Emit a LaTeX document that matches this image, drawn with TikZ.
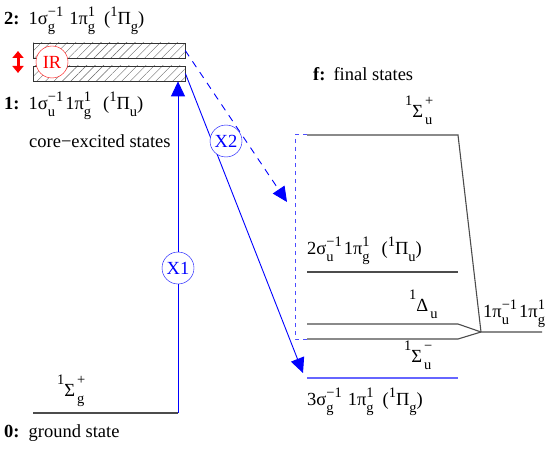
\documentclass[tikz,border=0pt]{standalone}
\usepackage{fontspec}
\setmainfont[Ligatures=TeX]{Liberation Serif}
\usetikzlibrary{arrows.meta, patterns.meta}

% scripts in the text font
\newcommand\scrfont{\fontsize{14.5}{16}\selectfont}
\newcommand\ssc[3][8pt]{{\scrfont\setbox0=\hbox{\raisebox{#1}{#3}}%
    \setbox2=\hbox{\raisebox{-7pt}{#2}}%
    \ifdim\wd0>\wd2 \rlap{\box2}\box0\else\rlap{\box0}\box2\fi}}
\newcommand\pre[2][8pt]{{\scrfont\raisebox{#1}{#2}}}
\newcommand\sbx[1]{{\scrfont\raisebox{-7pt}{#1}}}

\begin{document}
\begin{tikzpicture}[
    x=1pt, y=-1pt,
    lbl/.style={anchor=base west, inner sep=0pt, font=\fontsize{18.5}{22}\selectfont},
    level/.style={line width=1.1pt, black!70},
    bar/.style={draw, thick, black!80, minimum width=152pt, minimum height=15pt, inner sep=0pt,
        pattern={Lines[angle=45, distance=6pt, line width=0.4pt]}, pattern color=black!60},
    xcirc/.style={circle, draw=blue, fill=white, text=blue, inner sep=0pt, minimum size=32pt,
        font=\fontsize{18.5}{22}\selectfont},
    xarrow/.style={blue, line width=0.9pt, -{Triangle[length=15pt, width=14pt]}},
    xdash/.style={xarrow, dash pattern=on 7pt off 6pt},
    irarrow/.style={red, line width=3pt, {Triangle[length=7pt, width=11pt]}-{Triangle[length=7pt, width=11pt]}},
]
\useasboundingbox (0,0) rectangle (553,449);

% ===================== CORE-EXCITED STATES =====================
\node[lbl] (st2) at (4,25)
    {\textbf{2:}\hspace{9pt}1σ\ssc{g}{−1}\hspace{6pt}1π\ssc{g}{1}\hspace{9pt}(\pre{1}Π\sbx{g})};
\node[bar] (upper) at (109,50.5) {};
\node[bar] (lower) at (109,73.5) {};
\node[circle, draw=red, fill=white, text=red, inner sep=0pt, minimum size=32pt,
      font=\fontsize{18.5}{22}\selectfont] (ir) at (52,62) {IR};
\coordinate (irtop) at (18,51);
\coordinate (irbot) at (18,73);
\draw[irarrow] (irtop) -- (irbot);
\node[lbl] (st1) at (4,110)
    {\textbf{1:}\hspace{9pt}1σ\ssc{u}{−1}\hspace{2pt}1π\ssc{g}{1}\hspace{12pt}(\pre{1}Π\sbx{u})};
\node[lbl] (core) at (29,148) {core−excited states};

% ===================== GROUND STATE =====================
\coordinate (g0) at (33,413);
\coordinate (g1) at (178,413);
\draw[level] (g0) -- (g1);
\node[lbl] (sg) at (57,396) {\pre[12pt]{1}Σ\hspace{2pt}\ssc[12pt]{g}{+}};
\node[lbl] (st0) at (4,437) {\textbf{0:}\hspace{9pt}ground state};

% ===================== FINAL STATES =====================
\node[lbl] (fin) at (313,81) {\textbf{f:}\hspace{8pt}final states};

\coordinate (su0) at (307,135);
\coordinate (su1) at (458,135);
\coordinate (pu0) at (307,272);
\coordinate (pu1) at (458,272);
\coordinate (du0) at (307,324);
\coordinate (du1) at (458,324);
\coordinate (sm0) at (307,339);
\coordinate (sm1) at (458,339);
\coordinate (pg0) at (307,378);
\coordinate (pg1) at (458,378);
\coordinate (pp0) at (481,332);
\coordinate (pp1) at (542,332);
\coordinate (bt) at (295,135);
\coordinate (bb) at (295,339);

\draw[level] (su0) -- (su1) -- (pp0) -- (pp1);
\draw[level] (pu0) -- (pu1);
\draw[level] (du0) -- (du1) -- (pp0);
\draw[level] (sm0) -- (sm1) -- (pp0);
\draw[line width=1.3pt, blue!60] (pg0) -- (pg1);

% dashed bracket round the final states
\draw[blue!70, line width=1pt, dash pattern=on 4pt off 4pt] (su0) -- (bt) -- (bb) -- (sm0);

\node[lbl] (lsu) at (405,118) {\pre[12pt]{1}Σ\hspace{2pt}\ssc[12pt]{u}{+}};
\node[lbl] (lpu) at (307,254)
    {2σ\ssc{u}{−1}\hspace{2pt}1π\ssc{g}{1}\hspace{12pt}(\pre{1}Π\sbx{u})};
\node[lbl] (ldu) at (409,311) {\pre[12pt]{1}Δ\hspace{2pt}\sbx{u}};
\node[lbl] (lpp) at (483,317) {1π\ssc{u}{−1}\hspace{2pt}1π\ssc{g}{1}};
\node[lbl] (lsm) at (404,362) {\pre[12pt]{1}Σ\hspace{2pt}\ssc[12pt]{u}{−}};
\node[lbl] (lpg) at (307,405)
    {3σ\ssc{g}{−1}\hspace{6pt}1π\ssc{g}{1}\hspace{9pt}(\pre{1}Π\sbx{g})};

% ===================== TRANSITIONS =====================
\coordinate (x1end) at (g1 |- lower.south);
\coordinate (x2end) at (303,373);
\coordinate (x2dend) at (287,202);
\draw[xarrow] (g1) -- (x1end);
\node[xcirc] (x1) at (178,268) {X1};
\draw[xarrow] (lower.east) -- (x2end);
\draw[xdash] (upper.east) -- (x2dend);
\node[xcirc] (x2) at (226,141) {X2};

\end{tikzpicture}
\end{document}
